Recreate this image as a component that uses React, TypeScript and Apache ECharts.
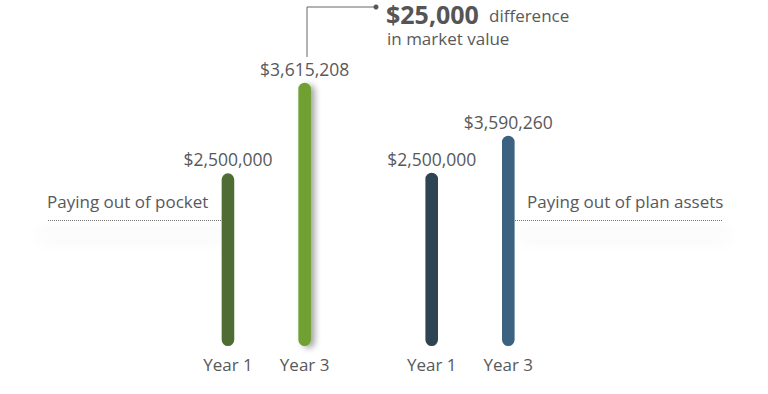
import React, { useEffect, useRef } from "react";
import * as echarts from "echarts";

const categories = ["Year 1", "Year 3"];
const pocketValues = [2500000, 3615208];
const planValues = [2500000, 3590260];
const pocketColors = ["#4e6c34", "#6fa033"];
const planColors = ["#2e4452", "#3b6280"];
const groupLabels = ["Paying out of pocket", "Paying out of plan assets"];
const diffTitle = "$25,000";
const diffWord = "difference";
const diffLine2 = "in market value";

const FONT = "'Open Sans', 'Noto Sans', sans-serif";
const TEXT = "#58595b";
const FS = 17;

const fmt = (v: number) => "$" + v.toLocaleString("en-US");

function makeRender(colors: string[], shadowIdx: number) {
  return (params: any, api: any) => {
    const idx = api.value(0);
    const v = api.value(1);
    const top = api.coord([idx, v]);
    const cs = params.coordSys;
    const bottom = cs.y + cs.height;
    const w = 12.6;
    return {
      type: "rect",
      shape: { x: top[0] - w / 2, y: top[1], width: w, height: bottom - top[1], r: w / 2 },
      style: {
        fill: colors[idx],
        shadowColor: idx === shadowIdx ? "rgba(0,0,0,0.35)" : "rgba(0,0,0,0)",
        shadowBlur: idx === shadowIdx ? 6 : 0,
        shadowOffsetX: idx === shadowIdx ? 4 : 0,
        shadowOffsetY: idx === shadowIdx ? 2 : 0,
      },
      textContent: {
        type: "text",
        style: { text: fmt(v), fill: TEXT, fontSize: FS + 0.5, fontFamily: FONT },
      },
      textConfig: { position: "top", distance: 5 },
    };
  };
}

export default function App() {
  const ref = useRef<HTMLDivElement>(null);
  useEffect(() => {
    document.body.style.margin = "0";
    const chart = echarts.init(ref.current!, null, { renderer: "svg" });
    const xAxisBase = {
      type: "category",
      data: categories,
      axisLine: { show: false },
      axisTick: { show: false },
      axisLabel: { color: TEXT, fontSize: FS, fontFamily: FONT, margin: 10 },
    };
    const yAxisBase = { type: "value", show: false, splitLine: { show: false } };
    chart.setOption({
      animation: false,
      backgroundColor: "#ffffff",
      textStyle: { fontFamily: FONT },
      grid: [
        { left: 189.6, width: 153.4, top: 30, height: 316 },
        { left: 393.4, width: 153.2, top: 30, height: 316 },
      ],
      xAxis: [
        { ...xAxisBase, gridIndex: 0 },
        { ...xAxisBase, gridIndex: 1 },
      ],
      yAxis: [
        { ...yAxisBase, gridIndex: 0, min: 374200, max: 4263900 },
        { ...yAxisBase, gridIndex: 1, min: -2606000, max: 6705000 },
      ],
      series: [
        {
          type: "custom",
          xAxisIndex: 0,
          yAxisIndex: 0,
          data: pocketValues.map((v, i) => [i, v]),
          renderItem: makeRender(pocketColors, 1),
          z: 3,
        },
        {
          type: "custom",
          xAxisIndex: 1,
          yAxisIndex: 1,
          data: planValues.map((v, i) => [i, v]),
          renderItem: makeRender(planColors, -1),
          z: 3,
        },
      ],
      graphic: [
        {
          type: "rect",
          z: 0,
          shape: { x: 40, y: 230, width: 185, height: 10, r: 5 },
          style: { fill: "#fcfcfc", shadowBlur: 16, shadowColor: "rgba(0,0,0,0.045)" },
        },
        {
          type: "rect",
          z: 0,
          shape: { x: 518, y: 230, width: 210, height: 10, r: 5 },
          style: { fill: "#fcfcfc", shadowBlur: 16, shadowColor: "rgba(0,0,0,0.045)" },
        },
        {
          type: "line",
          z: 1,
          shape: { x1: 48, y1: 220.5, x2: 222, y2: 220.5 },
          style: { stroke: "#777", lineWidth: 1, lineDash: [1, 1] },
        },
        {
          type: "line",
          z: 1,
          shape: { x1: 515, y1: 220.5, x2: 723, y2: 220.5 },
          style: { stroke: "#777", lineWidth: 1, lineDash: [1, 1] },
        },
        {
          type: "text",
          x: 47,
          y: 201,
          style: { text: groupLabels[0], fill: TEXT, fontSize: FS, fontFamily: FONT, verticalAlign: "middle" },
        },
        {
          type: "text",
          x: 527,
          y: 201,
          style: { text: groupLabels[1], fill: TEXT, fontSize: FS, fontFamily: FONT, verticalAlign: "middle" },
        },
        {
          type: "polyline",
          shape: { points: [[307, 57], [307, 7], [376, 7]] },
          style: { stroke: "#666", lineWidth: 1, fill: null },
        },
        {
          type: "circle",
          shape: { cx: 376, cy: 7, r: 2.5 },
          style: { fill: "#555" },
        },
        {
          type: "text",
          x: 386,
          y: 14,
          style: {
            text: diffTitle,
            fill: "#555",
            fontSize: 25,
            lineHeight: 22,
            fontWeight: "bold",
            fontFamily: FONT,
            verticalAlign: "middle",
          },
        },
        {
          type: "text",
          x: 489,
          y: 15.5,
          style: { text: diffWord, fill: TEXT, fontSize: FS, lineHeight: 17, fontFamily: FONT, verticalAlign: "middle" },
        },
        {
          type: "text",
          x: 387,
          y: 38,
          style: { text: diffLine2, fill: TEXT, fontSize: FS, lineHeight: 17, fontFamily: FONT, verticalAlign: "middle" },
        },
      ],
    });
    return () => chart.dispose();
  }, []);
  return <div ref={ref} style={{ width: 768, height: 394 }} />;
}
